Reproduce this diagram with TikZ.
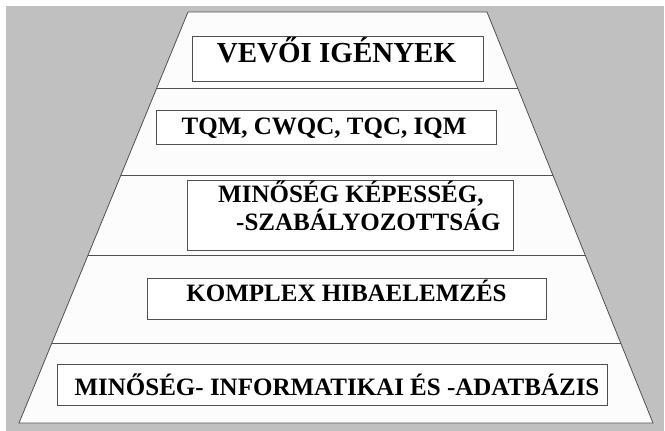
\documentclass[tikz,border=0pt]{standalone}
\usepackage{fontspec}
\setmainfont{Liberation Serif}
\newfontfamily\capfont{Liberation Serif}
\usetikzlibrary{calc}
\definecolor{backgray}{HTML}{C0C0C0}
\definecolor{edgegray}{HTML}{505050}
\definecolor{paper}{HTML}{FCFCFC}
\begin{document}
\begin{tikzpicture}[x=1pt,y=-1pt,
  level/.style={draw=edgegray,line width=0.9pt,fill=white,inner sep=0pt},
  label/.style={font=\capfont\bfseries\fontsize{25}{28}\selectfont,inner sep=0pt,anchor=base},
  divider/.style={draw=edgegray,line width=0.8pt}]
  \useasboundingbox (0,0) rectangle (665,431);
  % background panel
  \fill[backgray] (6,6) rectangle (664,431);
  % pyramid outline
  \coordinate (tl) at (188,12);
  \coordinate (tr) at (487,12);
  \coordinate (br) at (653,423);
  \coordinate (bl) at (19,423);
  \filldraw[fill=paper,draw=edgegray,line width=0.8pt] (tl) -- (tr) -- (br) -- (bl) -- cycle;
  % level dividers
  \foreach \t in {0.1849,0.3966,0.5912,0.8054}
    \draw[divider] ($(tl)!\t!(bl)$) -- ($(tr)!\t!(br)$);
  % level boxes
  \node[level,minimum width=291,minimum height=45] (b1) at (337.5,58.5) {};
  \node[level,minimum width=340,minimum height=34] (b2) at (326,127) {};
  \node[level,minimum width=326,minimum height=70] (b3) at (350,215) {};
  \node[level,minimum width=399,minimum height=41] (b4) at (346.5,298.5) {};
  \node[level,minimum width=550,minimum height=41] (b5) at (332,384.5) {};
  % captions
  \node[label,font=\capfont\bfseries\fontsize{29}{31}\selectfont] (t1) at (336.5,63) {VEVŐI IGÉNYEK};
  \node[label] (t2) at (324,134) {TQM, CWQC, TQC, IQM};
  \node[label,anchor=base west] (t3a) at (218,202) {MINŐSÉG KÉPESSÉG,};
  \node[label,anchor=base west] (t3b) at (236,230) {-SZABÁLYOZOTTSÁG};
  \node[label] (t4) at (346.5,301) {KOMPLEX HIBAELEMZÉS};
  \node[label] (t5) at (337,395) {MINŐSÉG- INFORMATIKAI ÉS -ADATBÁZIS};
\end{tikzpicture}
\end{document}
